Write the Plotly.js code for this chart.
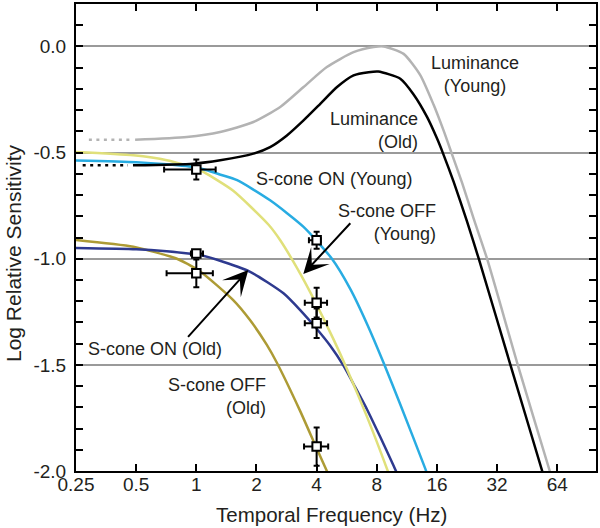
<!DOCTYPE html>
<html>
<head>
<meta charset="utf-8">
<script src="https://cdn.plot.ly/plotly-3.0.1.min.js"></script>
<style>html,body{margin:0;padding:0;background:#fff;}#chart{width:600px;height:528px;}</style>
</head>
<body>
<div id="chart"></div>
<script>
// ---- data (frequency in Hz, log relative sensitivity) ----
var lumYoungF = [0.494, 0.896, 1.316, 1.93, 2.63, 3.44, 4.50, 6.12, 7.71, 8.65, 10.9, 13.2, 15.4, 17.3, 18.9, 21.4, 24.4, 28.5, 40.6, 58.7, 63.1];
var lumYoungV = [-0.44, -0.427, -0.403, -0.356, -0.285, -0.191, -0.097, -0.027, -0.003, 0.0, -0.035, -0.135, -0.275, -0.398, -0.5, -0.644, -0.81, -1.0, -1.5, -2.0, -2.1];
var lumYoungDotF = [0.29, 0.47];
var lumYoungDotV = [-0.44, -0.44];

var lumOldF = [0.482, 0.967, 1.316, 1.93, 2.34, 2.84, 3.44, 4.17, 5.06, 6.12, 7.28, 8.14, 10.49, 12.2, 14.27, 16.0, 17.1, 19.4, 22.6, 25.9, 37.3, 53.8, 57.8];
var lumOldV = [-0.56, -0.552, -0.536, -0.505, -0.474, -0.419, -0.348, -0.27, -0.191, -0.136, -0.121, -0.118, -0.152, -0.225, -0.332, -0.433, -0.5, -0.638, -0.823, -1.0, -1.5, -2.0, -2.1];
var lumOldDotF = [0.27, 0.455];
var lumOldDotV = [-0.56, -0.56];

var sOnYoungF = [0.25, 0.5, 0.71, 1.0, 1.13, 1.3, 1.6, 2.34, 3.44, 4.77, 5.9, 7.15, 8.65, 10.49, 14.0, 14.6];
var sOnYoungV = [-0.537, -0.545, -0.555, -0.57, -0.583, -0.602, -0.63, -0.725, -0.85, -1.0, -1.143, -1.307, -1.49, -1.687, -1.99, -2.04];

var sOffYoungF = [0.25, 0.484, 0.712, 1.0, 1.085, 1.53, 2.3, 2.63, 3.31, 3.86, 4.86, 5.67, 7.15, 9.08, 9.4];
var sOffYoungV = [-0.497, -0.513, -0.536, -0.575, -0.591, -0.68, -0.84, -0.913, -1.07, -1.188, -1.38, -1.519, -1.745, -2.0, -2.04];

var sOnOldF = [0.25, 0.5, 0.71, 1.045, 1.27, 1.86, 2.73, 3.31, 4.0, 4.68, 5.46, 6.24, 7.15, 8.33, 9.71, 10.25];
var sOnOldV = [-0.949, -0.955, -0.965, -0.983, -1.005, -1.062, -1.163, -1.242, -1.33, -1.41, -1.505, -1.605, -1.71, -1.84, -1.975, -2.025];

var sOffOldF = [0.25, 0.484, 0.8, 1.045, 1.53, 1.86, 2.25, 2.53, 3.31, 4.0, 4.5, 4.79];
var sOffOldV = [-0.912, -0.944, -1.0, -1.06, -1.195, -1.29, -1.405, -1.49, -1.718, -1.893, -2.0, -2.06];

// measured points
var ptF = [1, 1, 1, 4, 4, 4, 4];
var ptV = [-0.58, -0.975, -1.069, -0.913, -1.207, -1.304, -1.885];
var ptErrV = [0.047, 0.012, 0.065, 0.04, 0.07, 0.07, 0.09];
var ptErrFPlus = [0.25, 0.08, 0.21, 0.19, 0.51, 0.51, 0.57];
var ptErrFMinus = [0.31, 0.06, 0.29, 0.34, 0.51, 0.51, 0.54];

// tick labels
var xTickVals = [0.25, 0.5, 1, 2, 4, 8, 16, 32, 64];
var xTickText = ['0.25', '0.5', '1', '2', '4', '8', '16', '32', '64'];
var yTickVals = [0, -0.5, -1, -1.5, -2];
var yTickText = ['0.0', '-0.5', '-1.0', '-1.5', '-2.0'];

// ---- styling ----
var FONT = 'Liberation Sans, Arial, Helvetica, sans-serif';
var TXT = '#231f20';
var LW = 2.5;
function line(x, y, color, dash) {
  return {x: x, y: y, type: 'scatter', mode: 'lines', hoverinfo: 'skip',
          line: {color: color, width: LW, shape: 'spline', smoothing: 0.6, dash: dash || 'solid'}};
}
var traces = [
  line(lumYoungDotF, lumYoungDotV, '#b3b3b3', '3px,4.5px'),
  line(lumOldDotF, lumOldDotV, '#000000', '3px,4.5px'),
  line(sOffOldF, sOffOldV, '#ad9b35'),
  line(sOnOldF, sOnOldV, '#2e3a8f'),
  line(sOffYoungF, sOffYoungV, '#e0e07a'),
  line(sOnYoungF, sOnYoungV, '#28ace2'),
  line(lumYoungF, lumYoungV, '#b3b3b3'),
  line(lumOldF, lumOldV, '#000000'),
  {x: ptF, y: ptV, type: 'scatter', mode: 'markers', hoverinfo: 'skip',
   marker: {symbol: 'square', size: 8.5, color: '#ffffff', line: {color: '#000000', width: 2}},
   error_y: {type: 'data', array: ptErrV, color: '#000000', thickness: 2, width: 3},
   error_x: {type: 'data', array: ptErrFPlus, arrayminus: ptErrFMinus, color: '#000000', thickness: 2, width: 3}}
];

// pixel -> paper helpers for annotation placement
var L = 76, T = 4, W = 520, H = 467;
function px(x) { return (x - L) / W; }
function py(y) { return (T + H - y) / H; }
function label(text, x, y, xanchor, align) {
  return {text: text, xref: 'paper', yref: 'paper', x: px(x), y: py(y), xanchor: xanchor,
          yanchor: 'middle', align: align, showarrow: false, font: {family: FONT, size: 18, color: TXT}};
}
function arrow(tipX, tipY, tailX, tailY) {
  return {text: '', xref: 'paper', yref: 'paper', x: px(tipX), y: py(tipY), ax: tailX - tipX, ay: tailY - tipY,
          showarrow: true, arrowhead: 3, arrowsize: 2.1, arrowwidth: 2, arrowcolor: '#000000', standoff: 0};
}

var annotations = [
  label('Luminance<br>(Young)', 474.5, 74, 'center', 'center'),
  label('Luminance<br>(Old)', 420, 130, 'right', 'right'),
  label('S-cone ON (Young)', 254, 178.5, 'left', 'left'),
  label('S-cone OFF<br>(Young)', 437.5, 222, 'right', 'right'),
  label('S-cone ON (Old)', 86, 348.5, 'left', 'left'),
  label('S-cone OFF<br>(Old)', 267.5, 396, 'right', 'right'),
  arrow(303.3, 274, 351.7, 221.7),
  arrow(248.3, 270, 186.7, 338.3),
  {text: 'Temporal Frequency (Hz)', xref: 'paper', yref: 'paper', x: px(331), y: py(514),
   xanchor: 'center', yanchor: 'middle', showarrow: false, font: {family: FONT, size: 20.5, color: TXT}},
  {text: 'Log Relative Sensitivity', xref: 'paper', yref: 'paper', x: px(13), y: py(253), textangle: -90,
   xanchor: 'center', yanchor: 'middle', showarrow: false, font: {family: FONT, size: 21, color: TXT}}
];

var layout = {
  width: 600, height: 528,
  margin: {l: L, r: 600 - L - W, t: T, b: 528 - T - H, pad: 0},
  paper_bgcolor: '#ffffff', plot_bgcolor: '#ffffff',
  showlegend: false,
  font: {family: FONT, color: TXT},
  xaxis: {type: 'log', range: [Math.log10(0.25), 2], tickmode: 'array', tickvals: xTickVals, ticktext: xTickText,
          ticks: 'inside', ticklen: 7, tickwidth: 2, tickcolor: '#000', showline: true, linewidth: 2, linecolor: '#000',
          mirror: 'ticks', showgrid: false, zeroline: false, ticklabelstandoff: -5,
          tickfont: {family: FONT, size: 19, color: TXT}},
  yaxis: {range: [-2, 0.2], tickmode: 'array', tickvals: yTickVals, ticktext: yTickText,
          ticks: 'inside', ticklen: 7, tickwidth: 2, tickcolor: '#000', showline: true, linewidth: 2, linecolor: '#000',
          mirror: 'ticks', showgrid: true, gridcolor: '#9a9a9a', gridwidth: 2, zeroline: false,
          tickfont: {family: FONT, size: 19, color: TXT}, ticklabelstandoff: 4,
          minor: {tickmode: 'linear', tick0: 0, dtick: 0.1, ticks: 'inside', ticklen: 7, tickwidth: 2, tickcolor: '#000', showgrid: false}},
  annotations: annotations
};

Plotly.newPlot('chart', traces, layout, {staticPlot: true, displayModeBar: false});
</script>
</body>
</html>
